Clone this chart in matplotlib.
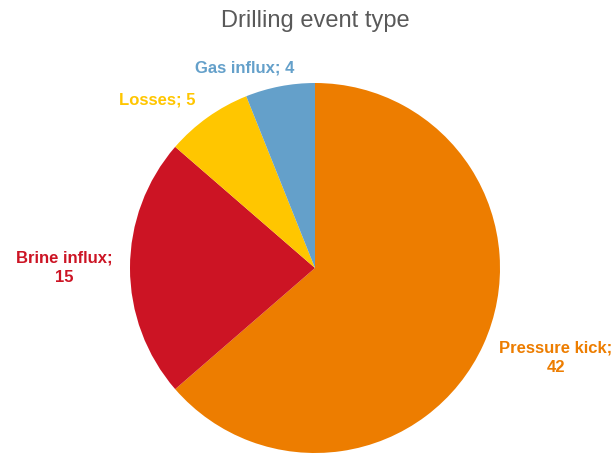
import matplotlib.pyplot as plt

# event counts by type
events = ["Pressure kick", "Brine influx", "Losses", "Gas influx"]
counts = [42, 15, 5, 4]
colors = ["#ED7D00", "#CC1424", "#FFC600", "#64A0CA"]

fig = plt.figure(figsize=(6.16, 4.55), dpi=100)
ax = fig.add_axes([0, 0, 1, 1])

wedges, _ = ax.pie(counts, colors=colors, startangle=90, counterclock=False,
                   center=(315, 187), radius=185, frame=True,
                   wedgeprops=dict(linewidth=0))
ax.set_xlim(0, 616)
ax.set_ylim(0, 455)
ax.set_aspect("equal")
ax.axis("off")

# label positions next to each slice
label_pos = [(556, 97), (64, 187), (157, 355), (245, 387)]
label_text = [f"{events[0]};\n{counts[0]}", f"{events[1]};\n{counts[1]}",
              f"{events[2]}; {counts[2]}", f"{events[3]}; {counts[3]}"]
for (x, y), txt, c in zip(label_pos, label_text, colors):
    ax.text(x, y, txt, ha="center", va="center", color=c, fontsize=12,
            fontweight="bold", family="Liberation Sans", linespacing=1.35)

ax.text(315, 434, "Drilling event type", ha="center", va="center",
        color="#595959", fontsize=17, family="Liberation Sans")

fig.savefig("out.png", dpi=100)
